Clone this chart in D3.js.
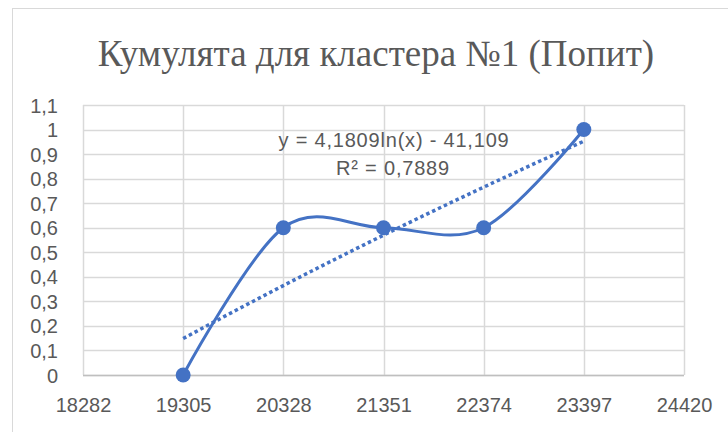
<!DOCTYPE html>
<html>
<head>
<meta charset="utf-8">
<script src="https://cdn.jsdelivr.net/npm/d3@7"></script>
<style>
  body { margin: 0; background: #fff; }
  svg { display: block; }
</style>
</head>
<body>
<div id="chart"></div>
<script>
// Data
const xValues = [19305, 20328, 21351, 22374, 23397];
const yValues = [0, 0.6, 0.6, 0.6, 1];
const xTicks = [18282, 19305, 20328, 21351, 22374, 23397, 24420];
const yTicks = [0, 0.1, 0.2, 0.3, 0.4, 0.5, 0.6, 0.7, 0.8, 0.9, 1, 1.1];
const titleText = "Кумулята для кластера №1 (Попит)";
const equationText = "y = 4,1809ln(x) - 41,109";
const r2Text = "R² = 0,7889";

const W = 728, H = 432;
const margin = {top: 105, right: 44, bottom: 57, left: 83};
const width = W - margin.left - margin.right;
const height = H - margin.top - margin.bottom;
const blue = "#4472C4";
const textColor = "#595959";
const fmt = v => String(+v.toFixed(1)).replace(".", ",");

const root = d3.select("#chart")
    .append("svg")
    .attr("width", W)
    .attr("height", H);

// chart frame
root.append("rect")
    .attr("x", 12.5)
    .attr("y", 8.5)
    .attr("width", W)
    .attr("height", H)
    .attr("fill", "none")
    .attr("stroke", "#d9d9d9");

root.append("text")
    .attr("x", 376)
    .attr("y", 66)
    .attr("text-anchor", "middle")
    .attr("font-family", "'Liberation Serif', 'Times New Roman', serif")
    .attr("font-size", 37)
    .attr("fill", textColor)
    .text(titleText);

const svg = root.append("g")
    .attr("transform", `translate(${margin.left},${margin.top})`);

const x = d3.scaleLinear()
    .domain([d3.min(xTicks), d3.max(xTicks)])
    .range([0, width]);

const y = d3.scaleLinear()
    .domain([0, d3.max(yTicks)])
    .range([height, 0]);

// grid
svg.append("g")
    .selectAll("line.h")
    .data(yTicks)
    .enter().append("line")
    .attr("x1", 0)
    .attr("x2", width)
    .attr("y1", d => Math.round(y(d)) + 0.5)
    .attr("y2", d => Math.round(y(d)) + 0.5)
    .attr("stroke", "#d9d9d9")
    .attr("stroke-width", 1.5);

svg.append("g")
    .selectAll("line.v")
    .data(xTicks)
    .enter().append("line")
    .attr("x1", d => Math.round(x(d)) + 0.5)
    .attr("x2", d => Math.round(x(d)) + 0.5)
    .attr("y1", 0)
    .attr("y2", height)
    .attr("stroke", "#d9d9d9")
    .attr("stroke-width", 1.5);

// Y axis labels
svg.append("g")
    .attr("transform", "translate(-25,0)")
    .call(d3.axisLeft(y).tickValues(yTicks).tickFormat(fmt).tickSize(0).tickPadding(0))
    .call(g => g.select(".domain").remove())
    .selectAll("text")
    .attr("font-family", "'Liberation Sans', Arial, sans-serif")
    .attr("font-size", 20)
    .attr("fill", textColor)
    .attr("dy", "0.35em");

// X axis labels
svg.append("g")
    .attr("transform", `translate(0,${height + 23})`)
    .call(d3.axisBottom(x).tickValues(xTicks).tickFormat(d => String(d)).tickSize(0).tickPadding(0))
    .call(g => g.select(".domain").remove())
    .selectAll("text")
    .attr("font-family", "'Liberation Sans', Arial, sans-serif")
    .attr("font-size", 20)
    .attr("fill", textColor);

// bottom axis line
svg.append("line")
    .attr("x1", 0)
    .attr("x2", width)
    .attr("y1", height + 0.5)
    .attr("y2", height + 0.5)
    .attr("stroke", "#bfbfbf")
    .attr("stroke-width", 1.5);

// logarithmic trendline from least squares on ln(x)
const lx = xValues.map(Math.log);
const mx = d3.mean(lx), my = d3.mean(yValues);
const slope = d3.sum(lx, (v, i) => (v - mx) * (yValues[i] - my)) / d3.sum(lx, v => (v - mx) ** 2);
const intercept = my - slope * mx;
const trendX = d3.range(0, 41).map(i => xValues[0] + (xValues[xValues.length - 1] - xValues[0]) * i / 40);

svg.append("path")
    .datum(trendX)
    .attr("fill", "none")
    .attr("stroke", blue)
    .attr("stroke-width", 3.5)
    .attr("stroke-dasharray", "3.5 3")
    .attr("d", d3.line().x(d => x(d)).y(d => y(slope * Math.log(d) + intercept)));

// smoothed series line
const series = xValues.map((v, i) => ({x: v, y: yValues[i]}));

svg.append("path")
    .datum(series)
    .attr("fill", "none")
    .attr("stroke", blue)
    .attr("stroke-width", 3)
    .attr("stroke-linejoin", "round")
    .attr("d", d3.line().x(d => x(d.x)).y(d => y(d.y)).curve(d3.curveCardinal.tension(0)));

svg.selectAll(".dot")
    .data(series)
    .enter().append("circle")
    .attr("class", "dot")
    .attr("cx", d => x(d.x))
    .attr("cy", d => y(d.y))
    .attr("r", 7.5)
    .attr("fill", blue);

// trendline label
svg.append("text")
    .attr("x", 394 - margin.left)
    .attr("y", 147 - margin.top)
    .attr("text-anchor", "middle")
    .attr("font-family", "'Liberation Sans', Arial, sans-serif")
    .attr("font-size", 20)
    .attr("letter-spacing", 0.8)
    .attr("fill", textColor)
    .text(equationText);

svg.append("text")
    .attr("x", 393 - margin.left)
    .attr("y", 175 - margin.top)
    .attr("text-anchor", "middle")
    .attr("font-family", "'Liberation Sans', Arial, sans-serif")
    .attr("font-size", 20)
    .attr("letter-spacing", 0.8)
    .attr("fill", textColor)
    .text(r2Text);
</script>
</body>
</html>
